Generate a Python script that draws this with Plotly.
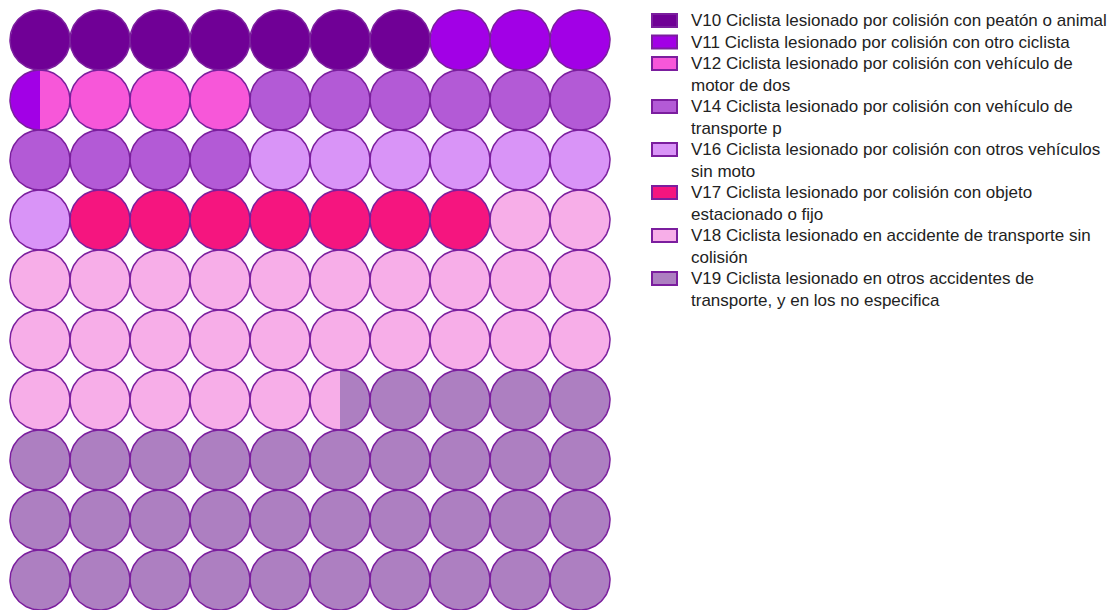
import numpy as np
import plotly.graph_objects as go

# ---- data ----
categories = [
    "V10 Ciclista lesionado por colisión con peatón o animal",
    "V11 Ciclista lesionado por colisión con otro ciclista",
    "V12 Ciclista lesionado por colisión con vehículo de<br>motor de dos",
    "V14 Ciclista lesionado por colisión con vehículo de<br>transporte p",
    "V16 Ciclista lesionado por colisión con otros vehículos<br>sin moto",
    "V17 Ciclista lesionado por colisión con objeto<br>estacionado o fijo",
    "V18 Ciclista lesionado en accidente de transporte sin<br>colisión",
    "V19 Ciclista lesionado en otros accidentes de<br>transporte, y en los no especifica",
]
values = [7, 3.5, 3.5, 10, 7, 7, 27.5, 34.5]
colors = ["#700096", "#a200e6", "#f757d9", "#b35ad6", "#d994f7", "#f5157f", "#f7aee8", "#ad7fc1"]
outline = "#7b1e9e"

W, H = 1111, 610
CELL = 60.0          # px per grid unit
GRID_LEFT, GRID_TOP = 10.0, 10.0
NCOLS, NROWS = 10, 10

fig = go.Figure()

# cumulative boundaries in cell units
bounds = np.concatenate([[0], np.cumsum(values)])
r = 0.5


def strip_polygon(cx, cy, a, b, n=60):
    # a, b are fractions of the cell width (0..1), left to right
    xa = cx - r + a * 2 * r
    xb = cx - r + b * 2 * r
    xs = np.linspace(xa, xb, n)
    ys_up = cy - np.sqrt(np.clip(r**2 - (xs - cx) ** 2, 0, None))
    ys_dn = cy + np.sqrt(np.clip(r**2 - (xs - cx) ** 2, 0, None))
    px = list(xs) + list(xs[::-1]) + [xs[0]]
    py = list(ys_up) + list(ys_dn[::-1]) + [ys_up[0]]
    return px, py


for k, (cat, col) in enumerate(zip(categories, colors)):
    lo, hi = bounds[k], bounds[k + 1]
    X, Y = [], []
    for cell in range(NCOLS * NROWS):
        c0, c1 = cell, cell + 1
        a = max(lo, c0)
        b = min(hi, c1)
        if b <= a:
            continue
        row, colidx = divmod(cell, NCOLS)
        cx, cy = colidx + 0.5, row + 0.5
        px, py = strip_polygon(cx, cy, a - c0, b - c0)
        X += px + [None]
        Y += py + [None]
    fig.add_trace(go.Scatter(x=X, y=Y, mode="lines", fill="toself", fillcolor=col,
                             line=dict(width=0, color=col), hoverinfo="skip", showlegend=False))

# outlines
t = np.linspace(0, 2 * np.pi, 121)
OX, OY = [], []
for cell in range(NCOLS * NROWS):
    row, colidx = divmod(cell, NCOLS)
    cx, cy = colidx + 0.5, row + 0.5
    OX += list(cx + r * np.cos(t)) + [None]
    OY += list(cy + r * np.sin(t)) + [None]
fig.add_trace(go.Scatter(x=OX, y=OY, mode="lines", line=dict(color=outline, width=1.5),
                         hoverinfo="skip", showlegend=False))

# ---- manual legend ----
LINE_H = 21.5
FIRST_Y = 20.5
BOX_X0, BOX_X1 = 652, 677
TEXT_X = 689
shapes = []
annotations = []
line_idx = 0
for cat, col in zip(categories, colors):
    lines = cat.split("<br>")
    yc = FIRST_Y + line_idx * LINE_H
    shapes.append(dict(type="rect", xref="paper", yref="paper",
                       x0=BOX_X0 / W, x1=BOX_X1 / W,
                       y0=1 - (yc - 6.5) / H, y1=1 - (yc + 6.5) / H,
                       fillcolor=col, line=dict(color=outline, width=2)))
    for j, ln in enumerate(lines):
        y = FIRST_Y + (line_idx + j) * LINE_H
        annotations.append(dict(text=ln, xref="paper", yref="paper", x=TEXT_X / W, y=1 - y / H,
                                xanchor="left", yanchor="middle", showarrow=False,
                                font=dict(family="Liberation Sans, Arial, sans-serif", size=17, color="#222222")))
    line_idx += len(lines)

fig.update_layout(
    width=W, height=H,
    margin=dict(l=0, r=0, t=0, b=0),
    paper_bgcolor="white", plot_bgcolor="white",
    xaxis=dict(range=[-GRID_LEFT / CELL, (W - GRID_LEFT) / CELL], visible=False, fixedrange=True),
    yaxis=dict(range=[(H - GRID_TOP) / CELL, -GRID_TOP / CELL], visible=False, fixedrange=True),
    shapes=shapes,
    annotations=annotations,
    showlegend=False,
)

fig.write_html("out.html")
